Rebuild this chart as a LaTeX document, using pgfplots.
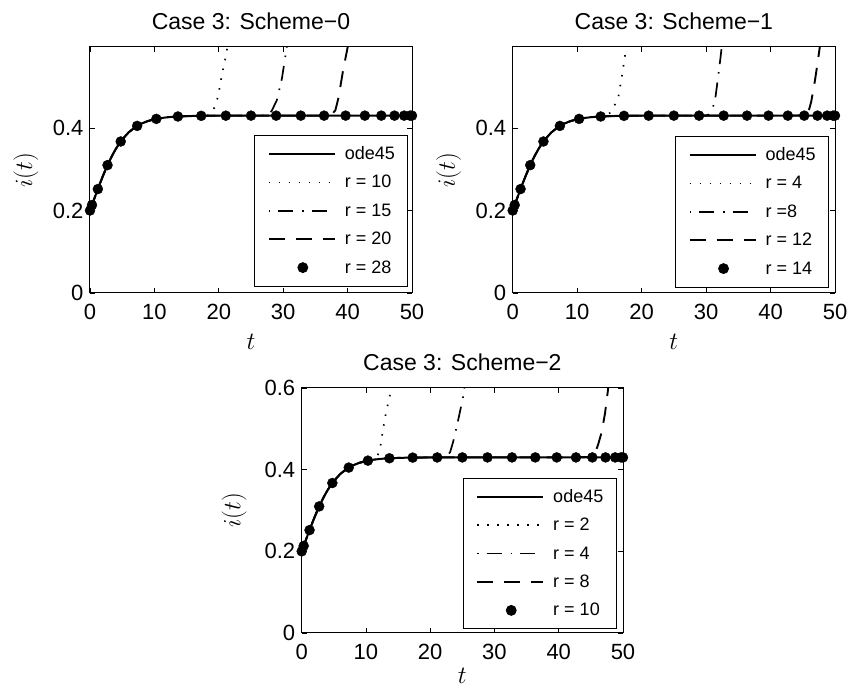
\documentclass[border=0pt]{standalone}
\usepackage[no-math]{fontspec}
\setmainfont{Liberation Sans}
\usepackage{pgfplots}
\pgfplotsset{compat=1.18}

\pgfplotsset{
  casestyle/.style={
    scale only axis,
    xmin=0, xmax=50, ymin=0,
    xtick={0,10,20,30,40,50},
    xticklabels={0,10,20,30,40,50},
    tick align=inside,
    major tick length=5pt,
    tick style={line width=0.8pt, black},
    axis line style={line width=1pt},
    every tick label/.append style={font=\fontsize{22}{22}\selectfont},
    xticklabel style={yshift=-7.5pt},
    yticklabel style={xshift=-3pt},
    every axis title/.style={at={(0.5,1)}, anchor=base, yshift=17pt, font=\fontsize{23}{23}\selectfont},
    label style={font=\fontsize{27}{27}\selectfont},
    ylabel={$i(t)$},
    xlabel={$t$},
    legend cell align=left,
    legend style={draw=black, line width=0.8pt, fill=white,
      anchor=south east,
      inner xsep=13pt, inner ysep=4.3pt,
      column sep=9pt, row sep=0pt,
      font=\fontsize{18}{18}\selectfont,
      nodes={inner xsep=0pt, inner ysep=0pt, minimum height=28.4pt}},
  },
  odeplot/.style={black, line width=2pt, no marks,
    legend image code/.code={\draw[##1] (0pt,0pt) -- (66pt,0pt);}},
  dotplot/.style={black, line width=1.7pt, no marks, dash pattern=on 1.5pt off 8.5pt,
    legend image code/.code={\draw[##1] (0pt,0pt) -- (66pt,0pt);}},
  dashdotplot/.style={black, line width=1.7pt, no marks, dash pattern=on 15pt off 9pt on 1.5pt off 8pt,
    legend image code/.code={\draw[##1,dash phase=24pt] (0pt,0pt) -- (66pt,0pt);}},
  dashplot/.style={black, line width=1.9pt, no marks, dash pattern=on 16pt off 11pt,
    legend image code/.code={\draw[##1] (0pt,0pt) -- (66pt,0pt);}},
  markplot/.style={black, only marks, mark=*, mark size=5pt,
    legend image code/.code={\draw[##1] plot coordinates {(34pt,0pt)};}},
}

\begin{document}
\begin{tikzpicture}
\path[use as bounding box] (0,0) rectangle (849pt,-692pt);

% ---------------- Scheme-0 ----------------
\begin{axis}[casestyle,
  at={(90pt,-47pt)}, anchor=north west,
  width=322pt, height=246pt,
  ymax=0.5964,
  ytick={0,0.2,0.4}, yticklabels={0,0.2,0.4},
  title={Case 3: Scheme\char"2212 0},
  ylabel style={at={(axis description cs:-0.199,0.5)}, anchor=center},
  xlabel style={at={(axis description cs:0.5,-0.197)}, anchor=center},
  legend style={at={(axis description cs:0.9885,0.0264)}},
]
\addplot[odeplot] coordinates {(0,0.2000) (0.5,0.2215) (1,0.2428) (1.5,0.2636) (2,0.2835) (2.5,0.3022) (3,0.3194) (3.5,0.3350) (4,0.3490) (4.5,0.3613) (5,0.3721) (6,0.3894) (7,0.4019) (8,0.4107) (9,0.4169) (10,0.4211) (11,0.4240) (12,0.4260) (13,0.4273) (14,0.4282) (16,0.4292) (18,0.4297) (20,0.4299) (25,0.4300) (35,0.4300) (50,0.4300)};
\addlegendentry{ode45}
\addplot[dotplot] coordinates {(0,0.2000) (0.5,0.2215) (1,0.2428) (1.5,0.2636) (2,0.2835) (2.5,0.3022) (3,0.3194) (3.5,0.3350) (4,0.3490) (4.5,0.3613) (5,0.3721) (6,0.3894) (7,0.4019) (8,0.4107) (9,0.4169) (10,0.4211) (11,0.4240) (12,0.4260) (13,0.4273) (14,0.4282) (16,0.4292) (18,0.4297) (18.5,0.4315) (18.9,0.437) (19.3,0.449) (19.9,0.477) (20.4,0.522) (21.1,0.575) (21.6,0.62)};
\addlegendentry{r = 10}
\addplot[dashdotplot] coordinates {(0,0.2000) (0.5,0.2215) (1,0.2428) (1.5,0.2636) (2,0.2835) (2.5,0.3022) (3,0.3194) (3.5,0.3350) (4,0.3490) (4.5,0.3613) (5,0.3721) (6,0.3894) (7,0.4019) (8,0.4107) (9,0.4169) (10,0.4211) (11,0.4240) (12,0.4260) (13,0.4273) (14,0.4282) (16,0.4292) (18,0.4297) (20,0.4299) (25,0.4300) (27,0.4301) (27.6,0.433) (28.2,0.441) (29.0,0.467) (29.8,0.52) (30.5,0.59) (30.8,0.62)};
\addlegendentry{r = 15}
\addplot[dashplot] coordinates {(0,0.2000) (0.5,0.2215) (1,0.2428) (1.5,0.2636) (2,0.2835) (2.5,0.3022) (3,0.3194) (3.5,0.3350) (4,0.3490) (4.5,0.3613) (5,0.3721) (6,0.3894) (7,0.4019) (8,0.4107) (9,0.4169) (10,0.4211) (11,0.4240) (12,0.4260) (13,0.4273) (14,0.4282) (16,0.4292) (18,0.4297) (20,0.4299) (25,0.4300) (30,0.4300) (37,0.4302) (37.6,0.434) (38.1,0.443) (38.6,0.474) (39.3,0.54) (40.0,0.595) (40.3,0.62)};
\addlegendentry{r = 20}
\addplot[markplot] coordinates {(0,0.2000) (0.31,0.2133) (1.22,0.2520) (2.72,0.3100) (4.77,0.3673) (7.32,0.4051) (10.30,0.4221) (13.65,0.4279) (17.27,0.4295) (21.09,0.4299) (25.00,0.4300) (28.91,0.4300) (32.73,0.4300) (36.35,0.4300) (39.69,0.4300) (42.68,0.4300) (45.23,0.4300) (47.28,0.4300) (48.78,0.4300) (49.69,0.4300) (50.00,0.4300)};
\addlegendentry{r = 28}
\end{axis}

% ---------------- Scheme-1 ----------------
\begin{axis}[casestyle,
  at={(512.7pt,-47pt)}, anchor=north west,
  width=322.3pt, height=246pt,
  ymax=0.5964,
  ytick={0,0.2,0.4}, yticklabels={0,0.2,0.4},
  title={Case 3: Scheme\char"2212 1},
  ylabel style={at={(axis description cs:-0.199,0.5)}, anchor=center},
  xlabel style={at={(axis description cs:0.5,-0.197)}, anchor=center},
  legend style={at={(axis description cs:0.9814,0.0224)}},
]
\addplot[odeplot] coordinates {(0,0.2000) (0.5,0.2215) (1,0.2428) (1.5,0.2636) (2,0.2835) (2.5,0.3022) (3,0.3194) (3.5,0.3350) (4,0.3490) (4.5,0.3613) (5,0.3721) (6,0.3894) (7,0.4019) (8,0.4107) (9,0.4169) (10,0.4211) (11,0.4240) (12,0.4260) (13,0.4273) (14,0.4282) (16,0.4292) (18,0.4297) (20,0.4299) (25,0.4300) (35,0.4300) (50,0.4300)};
\addlegendentry{ode45}
\addplot[dotplot] coordinates {(0,0.2000) (0.5,0.2215) (1,0.2428) (1.5,0.2636) (2,0.2835) (2.5,0.3022) (3,0.3194) (3.5,0.3350) (4,0.3490) (4.5,0.3613) (5,0.3721) (6,0.3894) (7,0.4019) (8,0.4107) (9,0.4169) (10,0.4211) (11,0.4240) (12,0.4260) (13,0.4273) (14,0.4282) (14.6,0.4305) (15.1,0.437) (15.6,0.448) (16.4,0.476) (16.9,0.522) (17.4,0.573) (17.8,0.62)};
\addlegendentry{r = 4}
\addplot[dashdotplot] coordinates {(0,0.2000) (0.5,0.2215) (1,0.2428) (1.5,0.2636) (2,0.2835) (2.5,0.3022) (3,0.3194) (3.5,0.3350) (4,0.3490) (4.5,0.3613) (5,0.3721) (6,0.3894) (7,0.4019) (8,0.4107) (9,0.4169) (10,0.4211) (11,0.4240) (12,0.4260) (13,0.4273) (14,0.4282) (16,0.4292) (18,0.4297) (20,0.4299) (25,0.4300) (30,0.4302) (30.5,0.433) (30.9,0.442) (31.4,0.468) (31.8,0.516) (32.2,0.566) (32.6,0.62)};
\addlegendentry{r =8}
\addplot[dashplot] coordinates {(0,0.2000) (0.5,0.2215) (1,0.2428) (1.5,0.2636) (2,0.2835) (2.5,0.3022) (3,0.3194) (3.5,0.3350) (4,0.3490) (4.5,0.3613) (5,0.3721) (6,0.3894) (7,0.4019) (8,0.4107) (9,0.4169) (10,0.4211) (11,0.4240) (12,0.4260) (13,0.4273) (14,0.4282) (16,0.4292) (18,0.4297) (20,0.4299) (25,0.4300) (40,0.4300) (44.8,0.4305) (45.5,0.435) (46.0,0.446) (46.3,0.463) (46.9,0.516) (47.4,0.569) (47.8,0.615)};
\addlegendentry{r = 12}
\addplot[markplot] coordinates {(0,0.2000) (0.31,0.2133) (1.22,0.2520) (2.72,0.3100) (4.77,0.3673) (7.32,0.4051) (10.30,0.4221) (13.65,0.4279) (17.27,0.4295) (21.09,0.4299) (25.00,0.4300) (28.91,0.4300) (32.73,0.4300) (36.35,0.4300) (39.69,0.4300) (42.68,0.4300) (45.23,0.4300) (47.28,0.4300) (48.78,0.4300) (49.69,0.4300) (50.00,0.4300)};
\addlegendentry{r = 14}
\end{axis}

% ---------------- Scheme-2 ----------------
\begin{axis}[casestyle,
  at={(301.7pt,-388pt)}, anchor=north west,
  width=321.3pt, height=245pt,
  ymax=0.6,
  ytick={0,0.2,0.4,0.6}, yticklabels={0,0.2,0.4,0.6},
  title={Case 3: Scheme\char"2212 2},
  ylabel style={at={(axis description cs:-0.21,0.5)}, anchor=center},
  xlabel style={at={(axis description cs:0.5,-0.176)}, anchor=center},
  legend style={at={(axis description cs:0.9804,0.0151)}},
]
\addplot[odeplot] coordinates {(0,0.2000) (0.5,0.2215) (1,0.2428) (1.5,0.2636) (2,0.2835) (2.5,0.3022) (3,0.3194) (3.5,0.3350) (4,0.3490) (4.5,0.3613) (5,0.3721) (6,0.3894) (7,0.4019) (8,0.4107) (9,0.4169) (10,0.4211) (11,0.4240) (12,0.4260) (13,0.4273) (14,0.4282) (16,0.4292) (18,0.4297) (20,0.4299) (25,0.4300) (35,0.4300) (50,0.4300)};
\addlegendentry{ode45}
\addplot[dotplot] coordinates {(0,0.2000) (0.5,0.2215) (1,0.2428) (1.5,0.2636) (2,0.2835) (2.5,0.3022) (3,0.3194) (3.5,0.3350) (4,0.3490) (4.5,0.3613) (5,0.3721) (6,0.3894) (7,0.4019) (8,0.4107) (9,0.4169) (10,0.4211) (11,0.4240) (11.5,0.4298) (11.9,0.438) (12.2,0.452) (12.7,0.503) (13.2,0.546) (13.7,0.58) (13.9,0.60) (14.1,0.63)};
\addlegendentry{r = 2}
\addplot[dashdotplot] coordinates {(0,0.2000) (0.5,0.2215) (1,0.2428) (1.5,0.2636) (2,0.2835) (2.5,0.3022) (3,0.3194) (3.5,0.3350) (4,0.3490) (4.5,0.3613) (5,0.3721) (6,0.3894) (7,0.4019) (8,0.4107) (9,0.4169) (10,0.4211) (11,0.4240) (12,0.4260) (13,0.4273) (14,0.4282) (16,0.4292) (18,0.4297) (20,0.4299) (22,0.4301) (22.6,0.433) (23.1,0.443) (23.6,0.47) (24.4,0.525) (25.1,0.577) (25.5,0.62)};
\addlegendentry{r = 4}
\addplot[dashplot] coordinates {(0,0.2000) (0.5,0.2215) (1,0.2428) (1.5,0.2636) (2,0.2835) (2.5,0.3022) (3,0.3194) (3.5,0.3350) (4,0.3490) (4.5,0.3613) (5,0.3721) (6,0.3894) (7,0.4019) (8,0.4107) (9,0.4169) (10,0.4211) (11,0.4240) (12,0.4260) (13,0.4273) (14,0.4282) (16,0.4292) (18,0.4297) (20,0.4299) (25,0.4300) (40,0.4300) (44.5,0.431) (45.2,0.435) (45.7,0.443) (46.1,0.46) (46.7,0.493) (47.2,0.538) (47.7,0.6) (47.9,0.625)};
\addlegendentry{r = 8}
\addplot[markplot] coordinates {(0,0.2000) (0.31,0.2133) (1.22,0.2520) (2.72,0.3100) (4.77,0.3673) (7.32,0.4051) (10.30,0.4221) (13.65,0.4279) (17.27,0.4295) (21.09,0.4299) (25.00,0.4300) (28.91,0.4300) (32.73,0.4300) (36.35,0.4300) (39.69,0.4300) (42.68,0.4300) (45.23,0.4300) (47.28,0.4300) (48.78,0.4300) (49.69,0.4300) (50.00,0.4300)};
\addlegendentry{r = 10}
\end{axis}
\end{tikzpicture}
\end{document}
